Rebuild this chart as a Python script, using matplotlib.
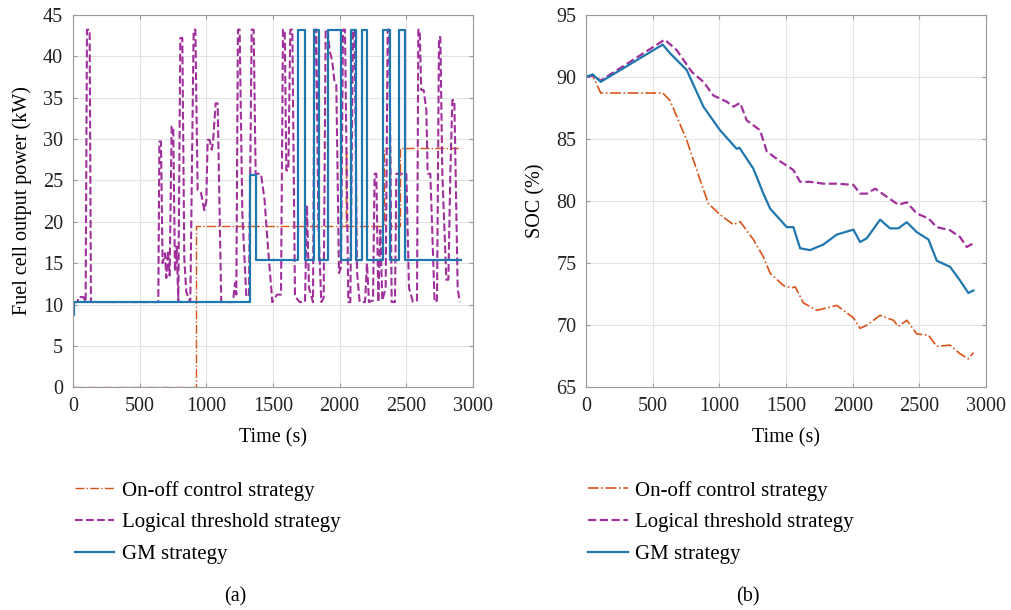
import matplotlib
matplotlib.use('Agg')
import matplotlib.pyplot as plt

plt.rcParams['font.family'] = ['Liberation Serif', 'DejaVu Serif']
plt.rcParams['font.size'] = 14.5

c_onoff = '#D95319'
c_logic = '#A0309C'
c_gm = '#1F77B0'

labels = ['On-off control strategy', 'Logical threshold strategy', 'GM strategy']

# ---- (a) fuel cell output power, kW ----
onoff_p_t = [0, 925, 2045, 2050, 2330, 2380, 2455, 2908]
onoff_p = [0, 19.5, 28.9, 19.5, 28.9, 19.5, 28.9, 28.9]

gm_p_t = [0, 5, 1330, 1370, 1688, 1738, 1808, 1843, 1915, 2008, 2083, 2125,
          2165, 2205, 2325, 2375, 2445, 2488, 2908]
gm_p = [8.7, 10.3, 25.7, 15.4, 43.2, 15.4, 43.2, 15.4, 43.2, 15.4, 43.2, 15.4,
        43.2, 15.4, 43.2, 15.4, 43.2, 15.4, 15.4]

logic_p_t = [0, 35, 40, 80, 95, 105, 125, 135, 640, 648, 660, 672, 690, 700,
             712, 725, 740, 752, 765, 778, 790, 805, 820, 835, 850, 880, 905,
             918, 935, 960, 985, 1000, 1010, 1025, 1040, 1050, 1070, 1085,
             1100, 1112, 1200, 1215, 1225, 1237, 1250, 1270, 1300, 1320, 1340,
             1355, 1370, 1410, 1437, 1462, 1495, 1530, 1560, 1575, 1588, 1600,
             1615, 1630, 1645, 1665, 1700, 1740, 1755, 1770, 1800, 1812, 1825,
             1840, 1862, 1880, 1895, 1910, 1925, 1945, 1960, 1975, 1995, 2010,
             2025, 2040, 2065, 2080, 2100, 2112, 2130, 2150, 2190, 2205, 2220,
             2250, 2262, 2275, 2290, 2305, 2320, 2345, 2360, 2372, 2390, 2415,
             2425, 2440, 2500, 2520, 2550, 2580, 2590, 2600, 2612, 2630, 2650,
             2660, 2680, 2712, 2730, 2745, 2755, 2770, 2800, 2815, 2830, 2845,
             2860, 2885, 2900]
logic_p = [10.3, 10.3, 10.9, 10.9, 10.3, 43.2, 43.2, 10.3, 10.3, 29.7, 29.7,
           15.0, 16.2, 13.2, 16.5, 13.5, 31.5, 31.5, 14.0, 17.0, 10.3, 42.2,
           42.2, 15.5, 11.5, 10.3, 43.2, 43.2, 23.8, 23.5, 21.4, 22.5, 29.9,
           29.9, 28.7, 29.5, 34.3, 34.3, 21.0, 10.3, 10.3, 12.6, 11.2, 43.2,
           43.2, 21.0, 11.0, 11.0, 43.2, 43.2, 25.8, 25.8, 22.6, 17.0, 10.3,
           11.2, 11.2, 43.2, 43.2, 26.2, 26.2, 43.2, 43.2, 11.0, 10.3, 10.3,
           22.0, 12.0, 10.3, 43.2, 43.2, 20.0, 10.3, 10.8, 43.2, 43.2, 40.7,
           39.3, 37.1, 36.5, 13.8, 14.5, 43.2, 43.2, 10.3, 10.3, 43.2, 43.2,
           14.0, 10.3, 10.3, 15.0, 10.3, 10.5, 25.8, 25.8, 10.3, 19.0, 10.5,
           12.0, 43.2, 43.2, 10.3, 10.3, 25.8, 25.8, 25.8, 12.0, 10.3, 10.5,
           43.2, 43.2, 35.9, 35.9, 33.5, 25.8, 25.8, 10.3, 10.5, 42.3, 42.3,
           25.8, 13.0, 13.0, 25.8, 34.7, 34.7, 12.0, 10.3]

# ---- (b) battery SOC, % ----
gm_soc_t = [0, 50, 110, 575, 630, 755, 880, 1005, 1130, 1150, 1255, 1330, 1380,
            1505, 1555, 1605, 1680, 1780, 1880, 2005, 2055, 2105, 2205, 2280,
            2342, 2405, 2480, 2568, 2630, 2730, 2805, 2867, 2905]
gm_soc = [90.0, 90.2, 89.6, 92.6, 91.9, 90.55, 87.6, 85.7, 84.2, 84.3, 82.6,
          80.6, 79.4, 77.9, 77.9, 76.2, 76.05, 76.5, 77.3, 77.7, 76.7, 77.0,
          78.5, 77.8, 77.8, 78.3, 77.5, 76.9, 75.2, 74.7, 73.6, 72.6, 72.8]

logic_soc_t = [0, 50, 110, 590, 680, 793, 880, 955, 1055, 1105, 1155, 1205,
               1305, 1355, 1455, 1555, 1605, 1680, 1780, 1880, 2005, 2055, 2105,
               2168, 2255, 2342, 2405, 2480, 2568, 2630, 2730, 2805, 2855, 2905]
logic_soc = [90.0, 90.1, 89.7, 93.0, 92.15, 90.4, 89.6, 88.5, 88.0, 87.6, 87.9,
             86.5, 85.7, 84.0, 83.2, 82.5, 81.55, 81.55, 81.4, 81.4, 81.3, 80.6,
             80.6, 81.0, 80.35, 79.7, 79.9, 79.0, 78.6, 77.9, 77.65, 77.1, 76.3,
             76.6]

onoff_soc_t = [0, 50, 110, 575, 630, 755, 830, 917, 1005, 1105, 1155, 1255,
               1330, 1380, 1480, 1543, 1568, 1630, 1730, 1880, 2005, 2055, 2105,
               2205, 2305, 2342, 2405, 2480, 2568, 2630, 2730, 2805, 2867, 2905]
onoff_soc = [90.0, 90.1, 88.7, 88.7, 88.1, 84.9, 82.5, 79.8, 78.9, 78.1, 78.35,
             76.9, 75.5, 74.2, 73.2, 73.0, 73.1, 71.8, 71.2, 71.6, 70.6, 69.75,
             70.0, 70.8, 70.4, 69.9, 70.4, 69.3, 69.2, 68.3, 68.4, 67.7, 67.3,
             67.8]

fig = plt.figure(figsize=(10.12, 6.10), dpi=100)
ax1 = fig.add_axes([0.0721, 0.365, 0.3953, 0.6108])
ax2 = fig.add_axes([0.5791, 0.365, 0.3953, 0.6108])

ax1.plot(onoff_p_t, onoff_p, color=c_onoff, ls='-.', lw=1.0, drawstyle='steps-post', label=labels[0])
ax1.plot(logic_p_t, logic_p, color=c_logic, ls='--', lw=1.5, label=labels[1])
ax1.plot(gm_p_t, gm_p, color=c_gm, ls='-', lw=1.6, drawstyle='steps-post', label=labels[2])
ax1.set_xlim(0, 3000)
ax1.set_ylim(0, 45)
ax1.set_xticks(range(0, 3001, 500))
ax1.set_yticks(range(0, 46, 5))
ax1.set_xlabel('Time (s)', labelpad=9)
ax1.set_ylabel('Fuel cell output power (kW)', labelpad=8)

ax2.plot(onoff_soc_t, onoff_soc, color=c_onoff, ls='-.', lw=1.2, label=labels[0])
ax2.plot(logic_soc_t, logic_soc, color=c_logic, ls='--', lw=1.6, label=labels[1])
ax2.plot(gm_soc_t, gm_soc, color=c_gm, ls='-', lw=1.6, label=labels[2])
ax2.set_xlim(0, 3000)
ax2.set_ylim(65, 95)
ax2.set_xticks(range(0, 3001, 500))
ax2.set_yticks(range(65, 96, 5))
ax2.set_xlabel('Time (s)', labelpad=9)
ax2.set_ylabel('SOC (%)', labelpad=8)

for ax, x0, tag in [(ax1, 0.074, '(a)'), (ax2, 0.581, '(b)')]:
    ax.grid(True, color='#E3E3E3', lw=0.8)
    ax.set_axisbelow(True)
    for s in ax.spines.values():
        s.set_color('#9A9A9A')
        s.set_linewidth(0.8)
    ax.tick_params(direction='in', length=3, pad=7, color='#9A9A9A', labelcolor='#222222',
                   top=True, right=True, labelsize=14.5)
    ax.legend(loc='upper left', bbox_to_anchor=(x0, 0.212), bbox_transform=fig.transFigure,
              frameon=False, fontsize=15, handlelength=1.9, handletextpad=0.35,
              labelspacing=0.58, borderpad=0, borderaxespad=0)
    fig.text(x0 + 0.158, 0.014, tag, ha='center', fontsize=14.5)

fig.savefig('out.png', dpi=100)
